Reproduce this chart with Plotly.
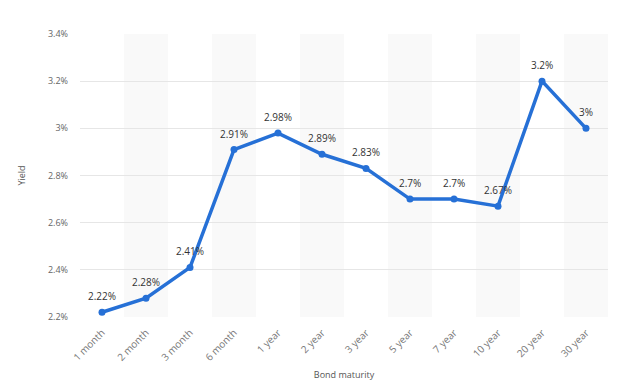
import plotly.graph_objects as go

categories = ["1 month", "2 month", "3 month", "6 month", "1 year", "2 year",
              "3 year", "5 year", "7 year", "10 year", "20 year", "30 year"]
yields = [2.22, 2.28, 2.41, 2.91, 2.98, 2.89, 2.83, 2.7, 2.7, 2.67, 3.2, 3.0]
labels = ["2.22%", "2.28%", "2.41%", "2.91%", "2.98%", "2.89%", "2.83%",
          "2.7%", "2.7%", "2.67%", "3.2%", "3%"]
y_ticks = [2.2, 2.4, 2.6, 2.8, 3.0, 3.2, 3.4]
y_tick_text = ["2.2%", "2.4%", "2.6%", "2.8%", "3%", "3.2%", "3.4%"]

fig = go.Figure()
fig.add_trace(go.Scatter(
    x=categories, y=yields, mode="lines+markers",
    line=dict(color="#2670D6", width=3.5),
    marker=dict(size=7, color="#2670D6"),
    cliponaxis=False,
))

annotations = [
    dict(x=c, y=v, text=t, xref="x", yref="y", showarrow=False,
         yanchor="bottom", yshift=7,
         font=dict(size=10, color="#333333", family="Open Sans"))
    for c, v, t in zip(categories, yields, labels)
]

shapes = []
for i in range(len(categories)):
    if i % 2 == 1:
        shapes.append(dict(type="rect", xref="x", yref="paper",
                           x0=i - 0.5, x1=i + 0.5, y0=0, y1=1,
                           fillcolor="#F9F9F9", line=dict(width=0), layer="below"))

fig.update_layout(
    width=620, height=390,
    margin=dict(l=72, r=20, t=26, b=81),
    paper_bgcolor="white", plot_bgcolor="white",
    showlegend=False,
    shapes=shapes,
    annotations=annotations,
    font=dict(family="Open Sans", color="#666666"),
    xaxis=dict(
        type="category", range=[-0.5, 11.5],
        tickangle=-45, tickfont=dict(size=10, color="#777777"),
        ticklabelstandoff=7,
        title=dict(text="Bond maturity", font=dict(size=9, color="#555555"), standoff=9),
        showgrid=False, showline=False, ticks="",
    ),
    yaxis=dict(
        range=[2.2, 3.4], tickvals=y_ticks, ticktext=y_tick_text,
        tickfont=dict(size=9, color="#666666"),
        title=dict(text="Yield", font=dict(size=9, color="#555555"), standoff=20),
        gridcolor="#E6E6E6", gridwidth=1, zeroline=False, showline=False,
        ticks="", ticklabelstandoff=11,
    ),
)

fig.write_html("out.html")
